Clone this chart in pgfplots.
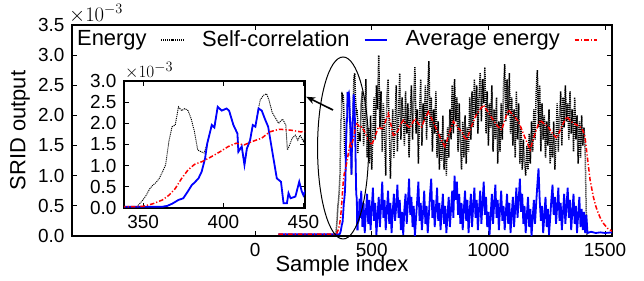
\documentclass[border=0pt]{standalone}
\usepackage{fontspec}
\setmainfont{Liberation Sans}
\usepackage{pgfplots}
\usepackage{pgfplotstable}
\pgfplotsset{compat=1.18}
\usetikzlibrary{arrows.meta}

% values in units of 1e-3
\pgfplotstableread{
x y
100 0
340 0
346 0.03
348 0.11
350 0.20
352 0.31
354 0.45
356 0.54
358 0.60
360 0.70
362 0.85
364 1.02
366 1.57
368 1.92
370 1.96
372 2.39
374 2.30
376 2.35
378 2.30
380 2.10
382 1.80
384 1.37
386 1.33
388 1.30
390 1.53
392.8 1.96
394.4 1.90
396.5 2.39
399 2.30
402 2.35
403.6 2.30
406.3 1.96
408.8 1.76
409.4 1.33
411.5 1.45
413.2 1.02
414.7 1.40
416.7 1.60
418.4 1.96
420 1.92
422 2.35
423 2.55
425 2.66
427 2.70
428.5 2.55
430.5 2.26
432.5 2.13
434.5 2.00
437 2.10
439 1.96
440 1.37
441 1.45
443 1.65
445 1.72
446.5 1.60
448 1.72
450 1.57
455 2.2
460 2.4
465 1.5
470 1.9
475 2.6
480 1.3
485 1.8
490 1.2
495 2.0
500 1.1
505 1.7
510 2.3
515 1.6
520 2.5
525 2.1
530 3.0
535 1.8
540 2.4
545 1.4
550 2.2
555 1.7
560 1.0
565 2.3
570 2.6
575 1.8
580 0.95
585 1.6
590 2.1
595 1.3
600 1.9
605 2.5
610 1.4
615 2.0
620 2.7
625 1.6
630 2.3
635 2.0
640 1.5
645 2.4
650 1.7
655 2.2
660 1.3
665 2.0
670 2.5
675 1.6
680 2.3
685 2.8
690 1.7
695 2.1
700 1.2
705 2.0
710 2.6
715 1.5
720 2.2
725 1.9
730 2.5
735 1.6
740 2.4
745 2.9
750 1.8
755 2.3
760 1.4
765 2.1
770 1.7
775 2.4
780 1.3
785 1.9
790 1.1
795 1.7
800 1.25
805 2.0
810 1.1
815 1.6
820 1.0
825 1.8
830 1.3
835 2.1
840 1.6
845 2.5
850 1.7
855 2.6
860 1.9
865 2.3
870 1.4
875 2.2
880 1.6
885 1.1
890 1.9
895 1.3
900 2.0
905 1.2
910 1.8
915 1.4
920 2.3
925 1.6
930 2.4
935 1.8
940 2.6
945 2.0
950 2.5
955 1.7
960 2.3
965 2.7
970 1.9
975 2.6
980 2.2
985 2.8
990 1.7
995 2.4
1000 1.5
1005 2.2
1010 1.8
1015 2.5
1020 1.4
1025 2.1
1030 1.6
1035 2.3
1040 1.2
1045 1.9
1050 1.4
1055 2.2
1060 1.6
1065 2.5
1070 2.85
1075 1.9
1080 2.6
1085 2.0
1090 2.7
1095 1.7
1100 2.3
1105 1.5
1110 2.1
1115 1.3
1120 2.4
1125 1.6
1130 2.2
1135 1.2
1140 1.8
1145 1.1
1150 1.6
1155 1.2
1160 1.0
1165 1.5
1170 1.1
1175 1.7
1180 1.2
1185 1.9
1190 1.4
1195 2.1
1200 1.6
1205 2.4
1210 2.75
1215 1.8
1220 2.5
1225 1.4
1230 2.2
1235 1.6
1240 2.0
1245 1.3
1250 1.9
1255 1.5
1260 2.1
1265 1.2
1270 1.7
1275 1.3
1280 1.9
1285 1.1
1290 1.6
1295 2.2
1300 1.4
1305 2.0
1310 2.4
1315 1.5
1320 2.3
1325 1.8
1330 2.5
1335 1.9
1340 2.2
1345 1.6
1350 2.4
1355 1.7
1360 2.1
1365 1.4
1370 2.3
1375 1.6
1380 2.0
1385 1.2
1390 1.9
1395 1.3
1400 2.0
1405 1.5
1410 1.8
1415 1.4
1420 0.3
1422 0.0
1530 0.0
}\energy

\pgfplotstableread{
x y
100 0.03
362 0.03
365 0.05
368 0.10
372 0.19
375 0.23
378 0.40
380.3 0.54
382 0.60
384.5 0.70
386.5 0.86
388.6 1.17
390 1.53
392.8 1.96
394.4 1.90
396.5 2.39
399 2.30
402 2.35
403.6 2.30
406.3 1.96
408.8 1.76
409.4 1.33
411.5 1.45
413.2 1.02
414.7 1.40
416.7 1.60
418.4 1.96
420 1.92
422 2.35
424 2.30
426 2.10
428 1.92
431.3 1.17
433.4 0.70
436 0.62
437.6 0.11
439.7 0.11
440.7 0.35
442 0.23
445 0.27
447.4 0.62
449 0.39
450 0.30
455 0.75
460 0.15
465 0.55
470 0.05
475 0.40
480 0.70
485 0.20
490 0.60
495 0.10
500 0.45
505 0.80
510 0.25
515 0.55
520 0.02
525 0.35
530 0.65
535 0.15
540 0.50
545 0.90
550 0.30
555 0.60
560 0.10
565 0.45
570 0.75
575 0.20
580 0.55
585 0.05
590 0.40
595 0.70
600 0.25
605 0.50
610 0.85
615 0.30
620 0.60
625 0.10
630 0.40
635 0.02
640 0.45
645 0.70
650 0.20
655 0.55
660 0.95
665 0.35
670 0.65
675 0.15
680 0.50
685 0.00
690 0.30
695 0.60
700 0.90
705 0.25
710 0.55
715 0.10
720 0.40
725 0.75
730 0.20
735 0.50
740 0.05
745 0.35
750 0.70
755 0.95
760 0.30
765 0.60
770 0.15
775 0.45
780 0.80
785 0.25
790 0.55
795 0.10
800 0.40
805 0.70
810 0.20
815 0.50
820 0.05
825 0.35
830 0.65
835 0.15
840 0.45
845 0.75
850 0.30
855 1.00
860 0.60
865 0.90
870 0.35
875 0.70
880 0.20
885 0.55
890 0.10
895 0.45
900 0.75
905 0.25
910 0.60
915 0.05
920 0.40
925 0.70
930 0.15
935 0.50
940 0.80
945 0.30
950 0.60
955 0.10
960 0.45
965 0.75
970 0.20
975 0.55
980 0.90
985 0.35
990 0.65
995 0.15
1000 0.40
1005 0.02
1010 0.35
1015 0.70
1020 0.20
1025 0.55
1030 0.85
1035 0.30
1040 0.60
1045 0.10
1050 0.45
1055 0.75
1060 0.25
1065 0.50
1070 0.10
1075 0.40
1080 0.70
1085 0.20
1090 0.55
1095 0.05
1100 0.35
1105 0.65
1110 0.15
1115 0.45
1120 0.80
1125 0.30
1130 0.60
1135 0.95
1140 0.40
1145 0.70
1150 0.20
1155 0.50
1160 0.05
1165 0.35
1170 0.65
1175 0.15
1180 0.45
1185 0.00
1190 0.30
1195 0.60
1200 0.20
1205 0.55
1210 0.85
1215 1.12
1220 0.60
1225 0.25
1230 0.50
1235 0.05
1240 0.35
1245 0.65
1250 0.15
1255 0.45
1260 0.02
1265 0.30
1270 0.60
1275 0.85
1280 0.35
1285 0.65
1290 0.20
1295 0.50
1300 0.80
1305 0.25
1310 0.55
1315 0.10
1320 0.40
1325 0.70
1330 0.20
1335 0.50
1340 0.80
1345 0.30
1350 0.60
1355 0.10
1360 0.40
1365 0.70
1370 0.20
1375 0.50
1380 0.05
1385 0.35
1390 0.65
1395 0.15
1400 0.45
1405 0.10
1410 0.40
1415 0.05
1420 0.35
1425 0.05
1440 0.07
1460 0.05
1480 0.06
1500 0.05
1530 0.06
}\selfcorr

\pgfplotstableread{
x y
100 0.03
340 0.03
350 0.04
356 0.10
362 0.19
366 0.30
370 0.46
374 0.70
378 0.90
382 1.03
387 1.10
392 1.20
398 1.33
403 1.45
408 1.53
413 1.49
418 1.57
424 1.65
429 1.80
435 1.86
442 1.84
448 1.80
457 1.81
468 1.74
479 1.65
490 1.56
500 1.51
515 1.66
529 1.81
540 1.78
550 1.79
560 1.92
571 2.03
582 1.85
594 1.65
604 1.70
614 1.76
625 1.86
636 1.92
650 1.84
664 1.79
675 1.88
686 1.95
700 1.86
714 1.81
728 1.95
743 2.06
760 1.92
779 1.76
797 1.60
814 1.48
832 1.70
850 1.90
868 1.80
886 1.73
897 1.64
907 1.59
922 1.76
936 1.90
947 2.00
957 2.06
968 2.12
979 2.17
1000 2.05
1021 1.92
1040 1.82
1057 1.76
1072 1.94
1086 2.09
1108 2.00
1129 1.90
1155 1.65
1179 1.43
1200 1.70
1221 1.92
1240 1.86
1257 1.81
1275 1.70
1293 1.62
1315 1.82
1336 1.98
1350 1.92
1364 1.87
1380 1.84
1393 1.81
1405 1.75
1414 1.65
1424 1.32
1436 0.93
1450 0.65
1460 0.50
1471 0.38
1482 0.28
1493 0.21
1510 0.13
1530 0.08
}\avgenergy

\pgfplotsset{
  srid/.style={
    scale only axis,
    axis line style={line width=1.1bp},
    every tick/.style={line width=0.9bp, black},
    major tick length=5bp,
    tick align=inside,
    tick label style={font=\fontsize{19}{22}\selectfont},
    /pgf/number format/assume math mode=true,
    /pgf/number format/1000 sep={},
    scaled ticks=false,
    yticklabel style={/pgf/number format/.cd, fixed, fixed zerofill, precision=1},
  },
  energystyle/.style={black, line width=1.5bp, dash pattern=on 1.1bp off 0.9bp},
  corrstyle/.style={blue, solid, line width=1.8bp},
  avgstyle/.style={red, line width=1.5bp, dash pattern=on 4.5bp off 2bp on 1.2bp off 2bp},
}

\begin{document}
\fontsize{22}{26}\selectfont
\begin{tikzpicture}
\begin{axis}[
  srid,
  name=main,
  at={(0,0)}, anchor=south west,
  width=540bp, height=211bp,
  xmin=-785, xmax=1530, ymin=0, ymax=3.5,
  xtick={0,500,1000,1500},
  ytick={0,0.5,1,1.5,2,2.5,3,3.5},
  xlabel={Sample index},
  ylabel={SRID output},
  xlabel style={at={(axis description cs:0.5,0)}, anchor=center, yshift=-29.5bp},
  ylabel style={at={([xshift=-52bp]axis description cs:0,0.5)}, anchor=center},
  legend columns=3,
  legend plot pos=right,
  legend image post style={xscale=1.3},
  legend style={draw=none, fill=none, at={(axis description cs:0,1)}, anchor=north west,
    font=\fontsize{22}{26}\selectfont, inner sep=1bp, xshift=2bp, yshift=-2bp,
    /tikz/every odd column/.append style={column sep=12bp},
    /tikz/every even column/.append style={column sep=16bp}},
]
\addplot[energystyle] table[x=x,y=y] {\energy};
\addlegendentry{Energy}
\addplot[corrstyle] table[x=x,y=y] {\selfcorr};
\addlegendentry{Self-correlation}
\addplot[avgstyle] table[x=x,y=y] {\avgenergy};
\addlegendentry{Average energy}
\coordinate (ec) at (axis cs:377,1.46);
\coordinate (atail) at (axis cs:334,2.09);
\coordinate (ahead) at (axis cs:219,2.31);
\end{axis}

\begin{axis}[
  srid,
  name=ins,
  at={(52bp,28bp)}, anchor=south west,
  width=181bp, height=127bp,
  xmin=338, xmax=451, ymin=0, ymax=3.0,
  xtick={350,400,450},
  ytick={0,0.5,1,1.5,2,2.5,3},
  axis background/.style={fill=white},
]
\addplot[energystyle, line width=0.9bp] table[x=x,y=y] {\energy};
\addplot[corrstyle] table[x=x,y=y] {\selfcorr};
\addplot[avgstyle] table[x=x,y=y] {\avgenergy};
\end{axis}

\node[anchor=south west, inner sep=0pt, xshift=-3bp, yshift=2bp, font=\fontsize{20.5}{24}\selectfont] at (main.north west) {$\times10^{-3}$};
\node[anchor=south west, inner sep=0pt, xshift=1bp, yshift=2bp, font=\fontsize{19}{22}\selectfont] at (ins.north west) {$\times10^{-3}$};

\draw[line width=1bp] (ec) ellipse [x radius=25.5bp, y radius=91bp];
\draw[line width=1.6bp, -{Stealth[length=9bp,width=7bp]}] (atail) -- (ahead);

\pgfresetboundingbox
\path[use as bounding box] (-72bp,-45bp) rectangle (572bp,236bp);
\end{tikzpicture}
\end{document}
